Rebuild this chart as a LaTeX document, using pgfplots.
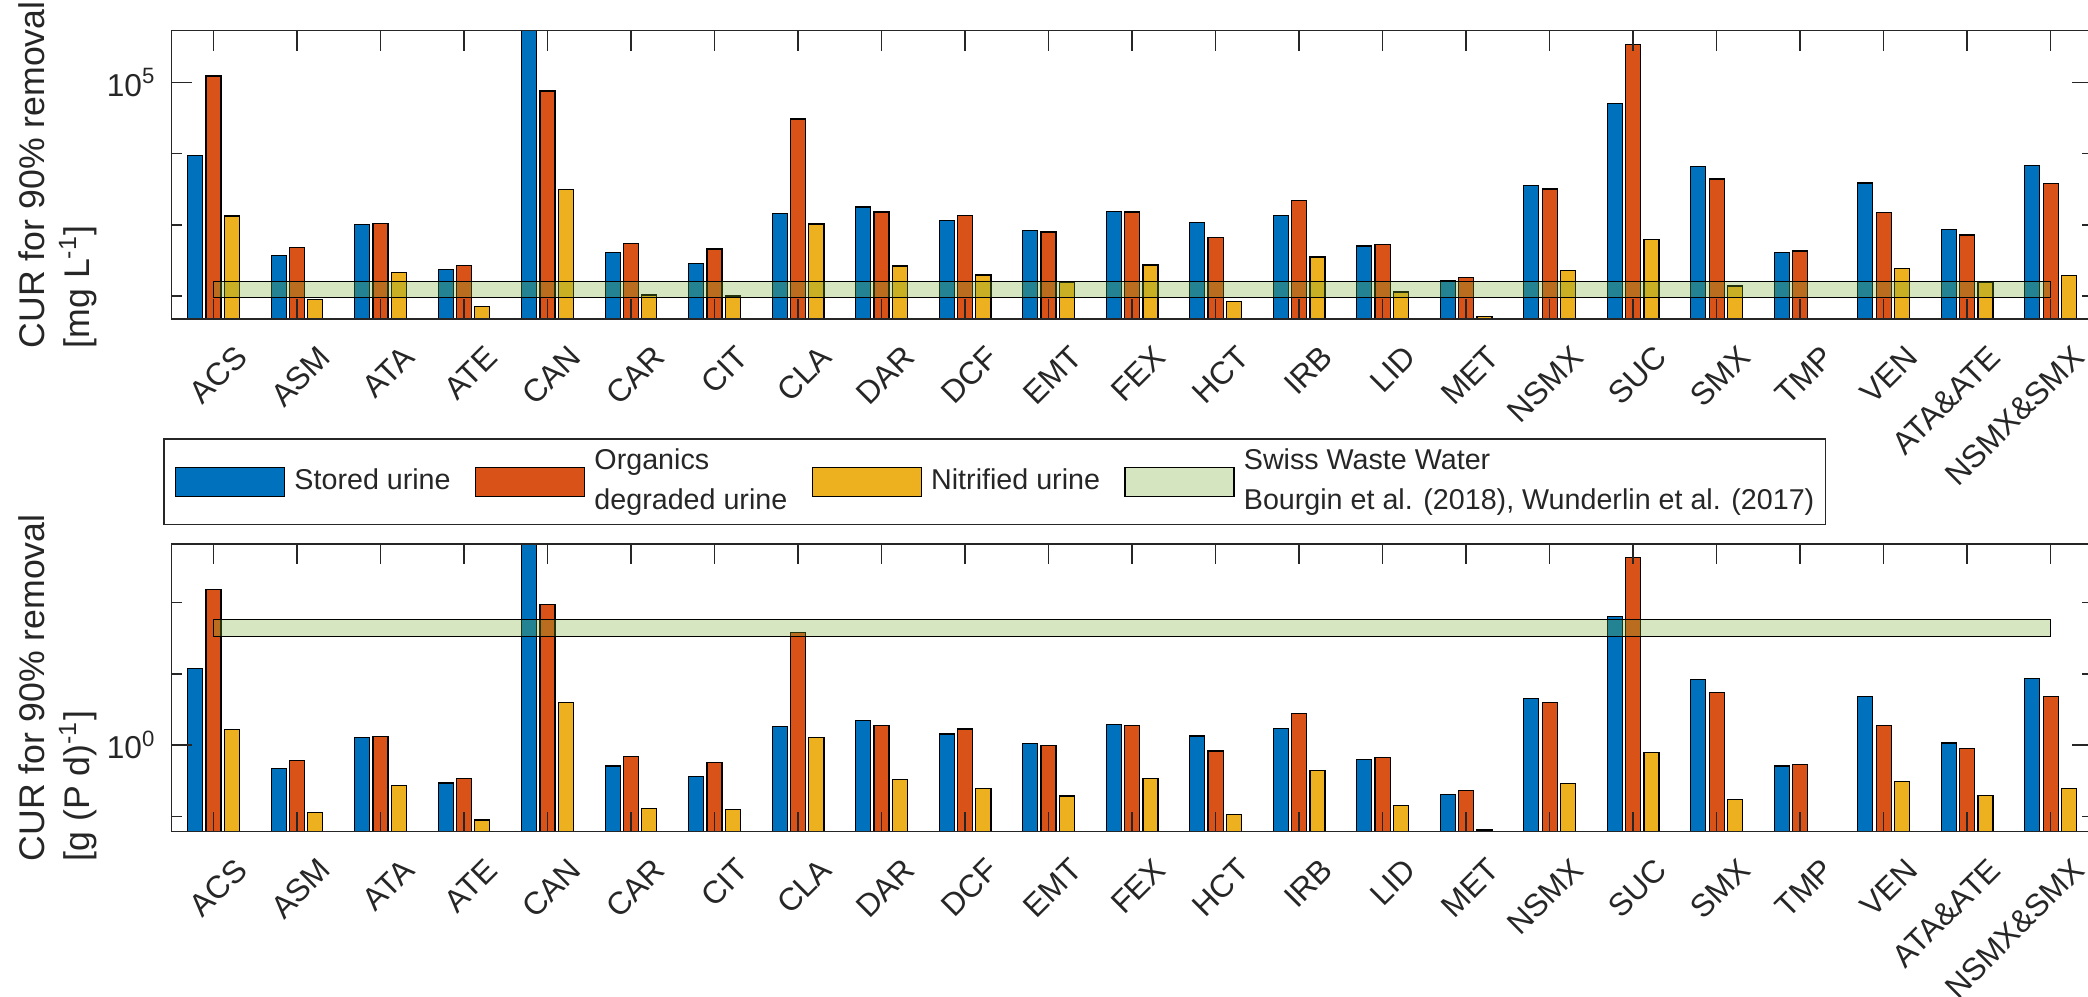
\documentclass[border=0pt]{standalone}
\usepackage{fontspec}
\setmainfont{Liberation Sans}
\usepackage{pgfplots}
\pgfplotsset{compat=1.18}
\usepackage{pgfplotstable}

\definecolor{mblue}{RGB}{0,114,189}
\definecolor{morange}{RGB}{217,83,25}
\definecolor{myellow}{RGB}{237,177,32}
\definecolor{mgreen}{RGB}{119,172,48}
\definecolor{axgray}{RGB}{38,38,38}

\pgfplotstableread{
x s o n
1 9400 124200 1334
2 373 478 89.7
3 1007 1052 214.8
4 234 270 70.8
5 1000000 76380 3162
6 406 550 103
7 288 458 100
8 1439 30830 1028
9 1782 1517 264
10 1146 1346 197
11 837 794 153.8
12 1556 1517 273
13 1074 661 84.1
14 1361 2188 353
15 505 527 113.8
16 162 183 51.2
17 3597 3192 229.6
18 50700 342000 626.6
19 6592 4416 138
20 406 428.5 nan
21 3882 1486 244.9
22 857 721 157
23 6808 3837 195
}\topdata

\pgfplotstableread{
x s o n
1 11.75 155.3 1.668
2 0.466 0.598 0.112
3 1.259 1.315 0.2685
4 0.2925 0.3375 0.0885
5 1250 95.5 3.95
6 0.508 0.688 0.129
7 0.36 0.573 0.125
8 1.80 38.5 1.285
9 2.23 1.90 0.33
10 1.43 1.68 0.246
11 1.05 0.99 0.192
12 1.95 1.90 0.341
13 1.34 0.826 0.105
14 1.70 2.74 0.441
15 0.631 0.659 0.142
16 0.2025 0.229 0.064
17 4.50 3.99 0.287
18 63.4 427.5 0.783
19 8.24 5.52 0.1725
20 0.508 0.536 nan
21 4.85 1.86 0.306
22 1.07 0.90 0.196
23 8.51 4.80 0.244
}\botdata

\newcommand{\xlabs}{ACS,ASM,ATA,ATE,CAN,CAR,CIT,CLA,DAR,DCF,EMT,FEX,HCT,IRB,LID,MET,NSMX,SUC,SMX,TMP,VEN,ATA\&ATE,NSMX\&SMX}

\begin{document}
\begin{tikzpicture}
\begin{axis}[name=top, at={(0,0)}, anchor=north west,
  scale only axis, width=576.21pt, height=86.49pt,
  xmin=0.5, xmax=23.5, ymode=log, log origin y=infty,
  ymin=47.4, ymax=538000,
  xtick={1,...,23}, xticklabels/.expanded={\xlabs},
  minor x tick num=0,
  ytick={100000}, yticklabels={10\textsuperscript{5}},
  minor ytick={100,1000,10000},
  tick align=inside, tick pos=both,
  major tick length=6pt, minor tick length=3pt,
  axis line style={axgray, line width=0.4pt},
  tick style={axgray, line width=0.4pt},
  xticklabel style={font=\fontsize{9.5}{11}\selectfont, text=axgray, inner sep=0pt, xshift=8.5pt, yshift=-9.7pt, rotate=45, anchor=east},
  yticklabel style={font=\fontsize{9.5}{11}\selectfont, text=axgray, inner sep=0pt, xshift=-4.5pt},
  ylabel style={font=\fontsize{10.7}{13.5}\selectfont, text=axgray, align=left, inner sep=0pt, at={(axis description cs:-0.0386,0.5)}, anchor=south},
  axis on top,
  ylabel={CUR for 90\% removal\\{[}mg L\textsuperscript{-1}{]}},
  legend columns=4,
  legend style={at={(-0.00437,-0.4138)}, anchor=north west, draw=axgray, line width=0.4pt,
    inner xsep=3.3pt, inner ysep=3.0pt, font=\fontsize{8.6}{12}\selectfont, text=axgray,
    cells={anchor=west, align=left}, nodes={inner sep=0pt},
    /tikz/every odd column/.append style={column sep=2.8pt},
    /tikz/every even column/.append style={column sep=7.3pt}},
  legend image code/.code={\draw[#1] (0pt,-4.35pt) rectangle (32.7pt,4.35pt);},
]
\addplot[ybar, bar width=0.18, bar shift=-0.22, draw=black, line width=0.35pt, fill=mblue] table[x=x, y=s] {\topdata};
\addlegendentry{Stored urine}
\addplot[ybar, bar width=0.18, bar shift=0, draw=black, line width=0.35pt, fill=morange] table[x=x, y=o] {\topdata};
\addlegendentry{Organics\\degraded urine}
\addplot[ybar, bar width=0.18, bar shift=0.22, draw=black, line width=0.35pt, fill=myellow] table[x=x, y=n] {\topdata};
\addlegendentry{Nitrified urine}
\addplot[fill=mgreen, fill opacity=0.3, draw=black, line width=0.35pt]
  coordinates {(1,96) (23,96) (23,159) (1,159) (1,96)};
\addlegendentry{Swiss Waste Water\\Bourgin et al. (2018), Wunderlin et al. (2017)}
\coordinate (BBtl) at (rel axis cs:-0.0894,1.1065);
\coordinate (BBbr) at (rel axis cs:0.99771,-2.35172);
\end{axis}

\begin{axis}[name=bot, at={(0,-153.99pt)}, anchor=north west,
  scale only axis, width=576.21pt, height=86.31pt,
  xmin=0.5, xmax=23.5, ymode=log, log origin y=infty,
  ymin=0.0605, ymax=668,
  xtick={1,...,23}, xticklabels/.expanded={\xlabs},
  minor x tick num=0,
  ytick={1}, yticklabels={10\textsuperscript{0}},
  minor ytick={0.1,10,100},
  tick align=inside, tick pos=both,
  major tick length=6pt, minor tick length=3pt,
  axis line style={axgray, line width=0.4pt},
  tick style={axgray, line width=0.4pt},
  xticklabel style={font=\fontsize{9.5}{11}\selectfont, text=axgray, inner sep=0pt, xshift=8.5pt, yshift=-9.7pt, rotate=45, anchor=east},
  yticklabel style={font=\fontsize{9.5}{11}\selectfont, text=axgray, inner sep=0pt, xshift=-4.5pt},
  ylabel style={font=\fontsize{10.7}{13.5}\selectfont, text=axgray, align=left, inner sep=0pt, at={(axis description cs:-0.0386,0.5)}, anchor=south},
  axis on top,
  ylabel={CUR for 90\% removal\\{[}g (P d)\textsuperscript{-1}{]}},
]
\addplot[ybar, bar width=0.18, bar shift=-0.22, draw=black, line width=0.35pt, fill=mblue] table[x=x, y=s] {\botdata};
\addplot[ybar, bar width=0.18, bar shift=0, draw=black, line width=0.35pt, fill=morange] table[x=x, y=o] {\botdata};
\addplot[ybar, bar width=0.18, bar shift=0.22, draw=black, line width=0.35pt, fill=myellow] table[x=x, y=n] {\botdata};
\addplot[fill=mgreen, fill opacity=0.3, draw=black, line width=0.35pt]
  coordinates {(1,33.6) (23,33.6) (23,57.7) (1,57.7) (1,33.6)};
\end{axis}
\pgfresetboundingbox
\useasboundingbox (BBtl) rectangle (BBbr);
\end{tikzpicture}
\end{document}
